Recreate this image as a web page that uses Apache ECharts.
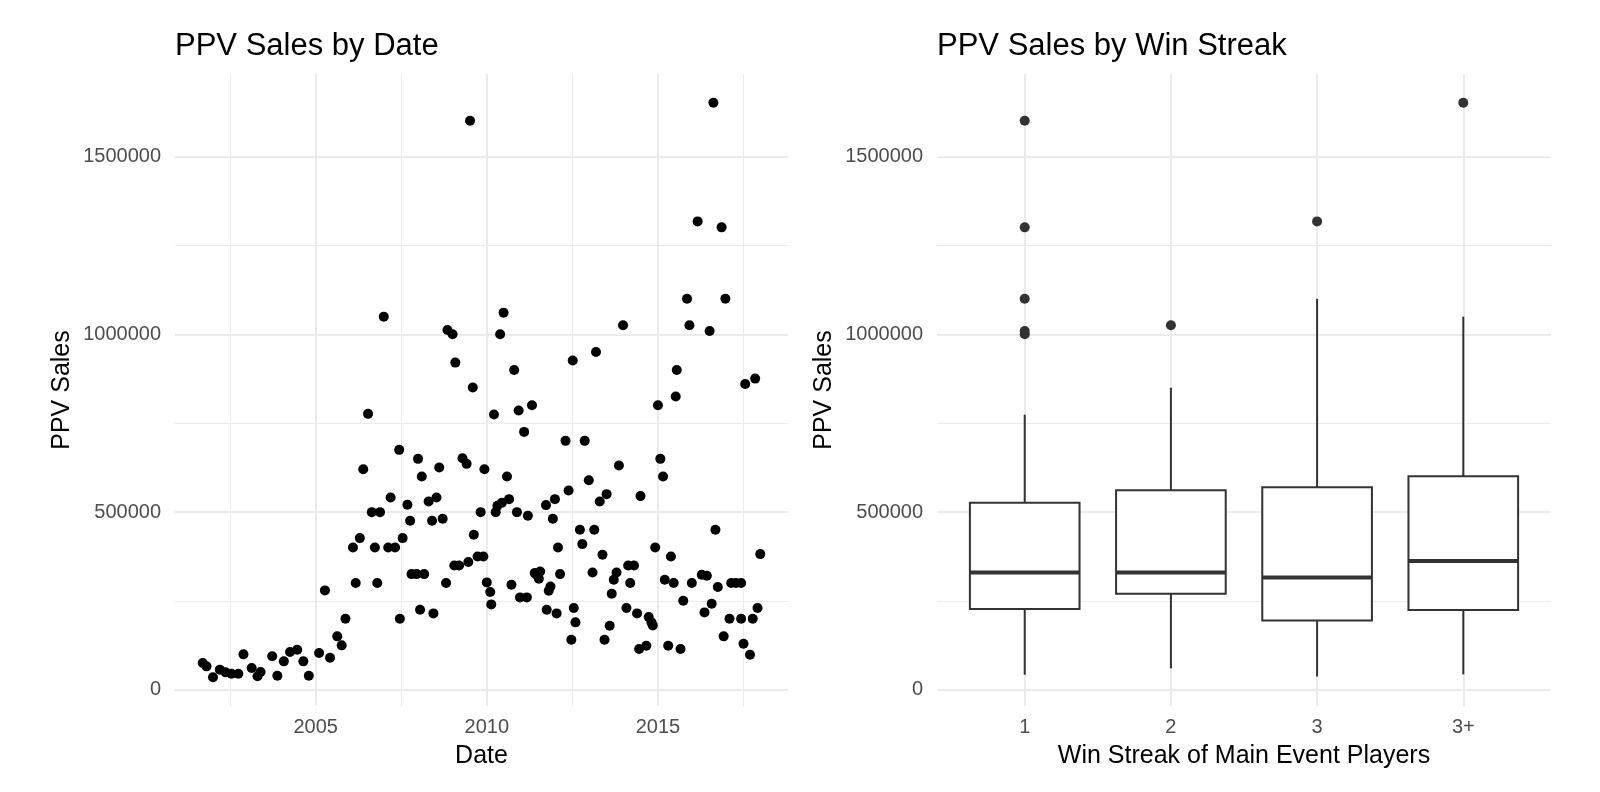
<!DOCTYPE html>
<html>
<head>
<meta charset="utf-8">
<title>PPV Sales</title>
<script src="https://cdn.jsdelivr.net/npm/echarts@6/dist/echarts.min.js"></script>
<style>
  html, body { margin: 0; padding: 0; background: #fff; }
  #chart { width: 1600px; height: 792px; }
</style>
</head>
<body>
<div id="chart"></div>
<script>
// 左图：日期（小数年）和 PPV 销量
const ppvByDate = [
  [2001.70, 75000], [2001.81, 65600], [2002.00, 34700], [2002.20, 56300], [2002.37, 48700],
  [2002.54, 45000], [2002.74, 45000], [2002.89, 99400], [2003.13, 60900], [2003.30, 37500],
  [2003.39, 49700], [2003.73, 93800], [2003.88, 39400], [2004.07, 79700], [2004.25, 105900],
  [2004.46, 112500], [2004.64, 79700], [2004.80, 39400], [2005.10, 103100], [2005.42, 90000],
  [2005.27, 279400], [2005.63, 150000], [2005.76, 124700], [2005.87, 199700], [2006.17, 300000],
  [2006.09, 400300], [2006.29, 426600], [2006.39, 620600], [2006.53, 776300], [2006.64, 499700],
  [2006.88, 499700], [2006.73, 400300], [2006.80, 300000], [2007.19, 540900], [2007.12, 400000],
  [2007.32, 400000], [2007.54, 426600], [2007.44, 675000], [2007.68, 520300], [2007.76, 475300],
  [2007.46, 199700], [2007.80, 325300], [2007.95, 325300], [2008.17, 325300], [2008.05, 225000],
  [2008.44, 214700], [2007.99, 649700], [2008.10, 600000], [2008.61, 625300], [2008.30, 529700],
  [2008.53, 540900], [2008.40, 475300], [2008.71, 481000], [2008.81, 300000], [2009.05, 349700],
  [2009.19, 349700], [2009.46, 359100], [2009.29, 651600], [2009.41, 635600], [2009.62, 436000],
  [2011.09, 725600], [2012.30, 700300], [2012.86, 700300], [2009.93, 620600], [2010.59, 600000],
  [2013.86, 630900], [2015.07, 649700], [2015.15, 600000], [2012.98, 589700], [2012.39, 560600],
  [2011.99, 536300], [2011.73, 519500], [2013.50, 550400], [2013.30, 529700], [2014.49, 544800],
  [2009.82, 499700], [2010.26, 499700], [2010.31, 517500], [2010.44, 525900], [2010.65, 536300],
  [2010.88, 499700], [2011.20, 489400], [2011.93, 481000], [2009.73, 375000], [2009.90, 375000],
  [2010.00, 301900], [2010.10, 274700], [2010.13, 240000], [2010.72, 295300], [2010.97, 259700],
  [2011.17, 259700], [2011.40, 328100], [2011.46, 323400], [2011.56, 332800], [2011.52, 312200],
  [2011.86, 290600], [2011.81, 278400], [2012.14, 325300], [2012.08, 400300], [2011.75, 225000],
  [2012.04, 214700], [2012.72, 450000], [2013.14, 450000], [2012.79, 409700], [2013.38, 379700],
  [2013.09, 330000], [2012.54, 229700], [2012.59, 189400], [2012.47, 140600], [2013.44, 140600],
  [2013.59, 180000], [2013.65, 270000], [2013.71, 309400], [2013.79, 330000], [2014.13, 349700],
  [2014.30, 349700], [2014.19, 300000], [2014.08, 229700], [2014.39, 214700], [2014.73, 204400],
  [2014.81, 189400], [2014.85, 180900], [2014.45, 114500], [2014.66, 123800], [2014.92, 400300],
  [2015.38, 375000], [2015.20, 309400], [2015.46, 300000], [2015.74, 250300], [2015.30, 123800],
  [2015.66, 114500], [2015.99, 300000], [2016.28, 323400], [2016.43, 320600], [2016.68, 450000],
  [2016.75, 288800], [2016.57, 241900], [2016.36, 217500], [2017.14, 300000], [2017.28, 300000],
  [2017.43, 300000], [2017.09, 199700], [2017.43, 199700], [2017.77, 199700], [2016.92, 150000],
  [2017.50, 129400], [2017.69, 98400], [2017.91, 229700], [2017.99, 381600],
  [2009.51, 1601300], [2016.62, 1651900], [2016.16, 1318100], [2016.86, 1301300], [2015.85, 1100600],
  [2016.97, 1100600], [2015.92, 1025600], [2016.51, 1009700], [2006.99, 1050000], [2008.85, 1012500],
  [2009.00, 1000300], [2009.08, 920600], [2009.59, 850300], [2010.49, 1061300], [2010.39, 1000300],
  [2010.80, 900000], [2012.51, 926300], [2013.19, 950600], [2013.98, 1025600], [2015.55, 900000],
  [2015.52, 825000], [2015.00, 800600], [2017.55, 860600], [2017.84, 875600], [2010.21, 774700],
  [2010.93, 785600], [2011.32, 800600]
]

// 右图：连胜分组的箱线统计 [min, Q1, median, Q3, max]
const streakCats = ['1', '2', '3', '3+']
const boxStats = [
  [42000, 227000, 330000, 526000, 774000],
  [60000, 270000, 330000, 561000, 850000],
  [37000, 195000, 316000, 570000, 1100000],
  [43000, 224000, 362000, 601000, 1050000]
]
// 离群点 [分组序号, 销量]
const boxOutliers = [
  [0, 1601300], [0, 1301300], [0, 1100600], [0, 1009700], [0, 1000300],
  [1, 1025600], [2, 1318100], [3, 1651900]
]

// 刻度与网格线
const dateTicks = [2005, 2010, 2015]
const dateMinorTicks = [2002.5, 2007.5, 2012.5, 2017.5]
const salesTicks = [0, 500000, 1000000, 1500000]
const salesMinorTicks = [250000, 750000, 1250000]
const catTicks = [0, 1, 2, 3]

const FONT = "'Liberation Sans', Arial, sans-serif"
const GRID_COLOR = '#ebebeb'

// 网格线（ggplot minimal 风格：主线粗，次线细）
function gridLines(xMajor, xMinor) {
  const major = { color: GRID_COLOR, width: 2, type: 'solid' }
  const minor = { color: GRID_COLOR, width: 1, type: 'solid' }
  let data = []
  xMajor.forEach(v => data.push({ xAxis: v, lineStyle: major }))
  xMinor.forEach(v => data.push({ xAxis: v, lineStyle: minor }))
  salesTicks.forEach(v => data.push({ yAxis: v, lineStyle: major }))
  salesMinorTicks.forEach(v => data.push({ yAxis: v, lineStyle: minor }))
  return {
    silent: true,
    symbol: ['none', 'none'],
    label: { show: false },
    emphasis: { disabled: true },
    animation: false,
    z: 1,
    data: data
  }
}

// 箱体：须线 + 白底矩形 + 加粗中位线
function renderBox(params, api) {
  const x = api.value(0)
  const lo = api.coord([x, api.value(1)])
  const q1 = api.coord([x, api.value(2)])
  const md = api.coord([x, api.value(3)])
  const q3 = api.coord([x, api.value(4)])
  const hi = api.coord([x, api.value(5)])
  const half = api.size([0.75, 0])[0] / 2
  const line = { stroke: '#333333', lineWidth: 2 }
  return {
    type: 'group',
    children: [
      { type: 'line', shape: { x1: lo[0], y1: lo[1], x2: q1[0], y2: q1[1] }, style: line },
      { type: 'line', shape: { x1: q3[0], y1: q3[1], x2: hi[0], y2: hi[1] }, style: line },
      {
        type: 'rect',
        shape: { x: q1[0] - half, y: q3[1], width: half * 2, height: q1[1] - q3[1] },
        style: { fill: '#ffffff', stroke: '#333333', lineWidth: 2 }
      },
      { type: 'line', shape: { x1: md[0] - half, y1: md[1], x2: md[0] + half, y2: md[1] }, style: { stroke: '#333333', lineWidth: 4 } }
    ]
  }
}

const axisLabelStyle = { color: '#4d4d4d', fontSize: 20, fontFamily: FONT }
const axisNameStyle = { color: '#000', fontSize: 25, fontFamily: FONT }
const titleStyle = { fontSize: 31, fontWeight: 'normal', color: '#000', fontFamily: FONT }

function yAxisFor(gridIndex) {
  return {
    type: 'value',
    gridIndex: gridIndex,
    min: -46000,
    max: 1733000,
    axisLine: { show: false },
    axisTick: { show: false },
    splitLine: { show: false },
    axisLabel: Object.assign({
      customValues: salesTicks,
      margin: 14,
      formatter: v => String(Math.round(v))
    }, axisLabelStyle),
    name: 'PPV Sales',
    nameLocation: 'middle',
    nameGap: 100,
    nameTextStyle: axisNameStyle
  }
}

let myChart = echarts.init(document.getElementById('chart'))
let option = {
  backgroundColor: '#ffffff',
  animation: false,
  title: [
    { text: 'PPV Sales by Date', left: 170, top: 26, textStyle: titleStyle },
    { text: 'PPV Sales by Win Streak', left: 932, top: 26, textStyle: titleStyle }
  ],
  grid: [
    { left: 175, right: 812, top: 74, bottom: 86 },
    { left: 937, right: 49, top: 74, bottom: 86 }
  ],
  xAxis: [
    {
      type: 'value',
      gridIndex: 0,
      min: 2000.89,
      max: 2018.80,
      axisLine: { show: false },
      axisTick: { show: false },
      splitLine: { show: false },
      axisLabel: Object.assign({
        customValues: dateTicks,
        margin: 11,
        formatter: v => String(Math.round(v))
      }, axisLabelStyle),
      name: 'Date',
      nameLocation: 'middle',
      nameGap: 38,
      nameTextStyle: axisNameStyle
    },
    {
      type: 'value',
      gridIndex: 1,
      min: -0.6,
      max: 3.6,
      axisLine: { show: false },
      axisTick: { show: false },
      splitLine: { show: false },
      axisLabel: Object.assign({
        customValues: catTicks,
        margin: 11,
        formatter: v => streakCats[Math.round(v)]
      }, axisLabelStyle),
      name: 'Win Streak of Main Event Players',
      nameLocation: 'middle',
      nameGap: 38,
      nameTextStyle: axisNameStyle
    }
  ],
  yAxis: [yAxisFor(0), yAxisFor(1)],
  series: [
    {
      name: 'PPV Sales by Date',
      type: 'scatter',
      xAxisIndex: 0,
      yAxisIndex: 0,
      z: 3,
      symbolSize: 10,
      itemStyle: { color: '#000000', opacity: 1 },
      data: ppvByDate,
      markLine: gridLines(dateTicks, dateMinorTicks)
    },
    {
      name: 'box',
      type: 'custom',
      xAxisIndex: 1,
      yAxisIndex: 1,
      z: 2,
      renderItem: renderBox,
      encode: { x: 0, y: [1, 2, 3, 4, 5] },
      data: boxStats.map((s, i) => [i].concat(s))
    },
    {
      name: 'outliers',
      type: 'scatter',
      xAxisIndex: 1,
      yAxisIndex: 1,
      z: 3,
      symbolSize: 10,
      itemStyle: { color: '#333333', opacity: 1 },
      data: boxOutliers,
      markLine: gridLines(catTicks, [])
    }
  ]
}

myChart.setOption(option)

window.addEventListener('resize', function () {
  myChart.resize()
})
</script>
</body>
</html>
